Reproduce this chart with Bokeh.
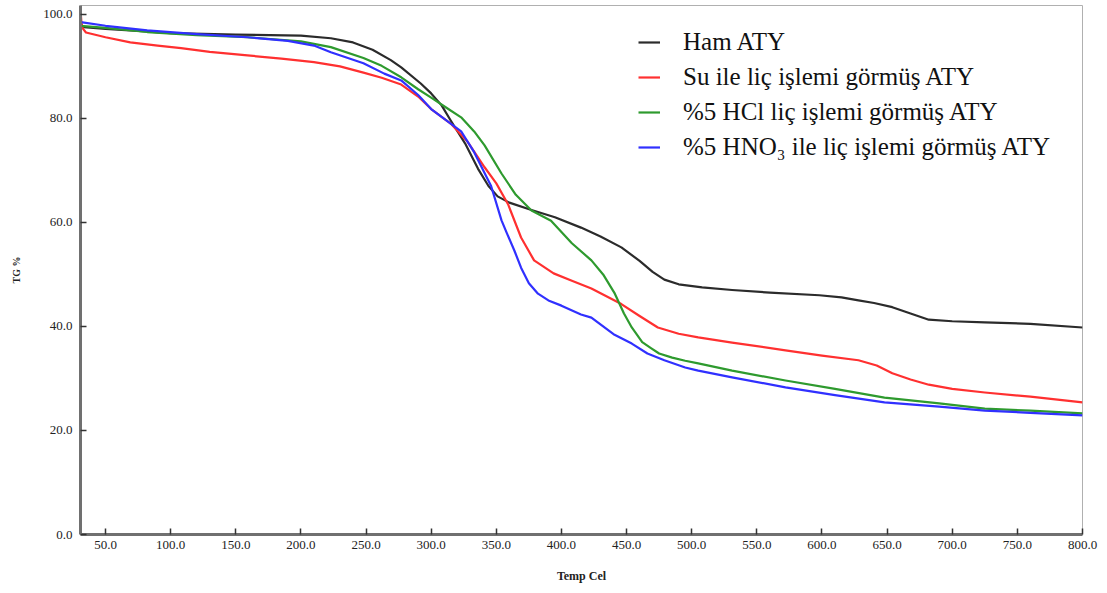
from bokeh.plotting import figure
from bokeh.models import Legend, LegendItem, NumeralTickFormatter, FixedTicker, Range1d
from bokeh.embed import file_html
from bokeh.resources import INLINE

# ---- data ----
ham_T = [31, 50, 75, 100, 150, 200, 223, 240, 255, 269, 277, 292, 300, 308, 315, 326, 336, 344, 351, 360, 377, 395, 415, 430, 446, 460, 470, 479, 490, 508, 531, 560, 598, 615, 628, 640, 654, 668, 682, 700, 725, 760, 800]
ham_W = [97.6, 97.2, 96.8, 96.4, 96.1, 95.9, 95.4, 94.6, 93.2, 91.2, 89.8, 86.7, 84.8, 82.5, 79.6, 75.2, 70.3, 67.0, 65.0, 63.8, 62.4, 61.0, 59.0, 57.3, 55.2, 52.6, 50.5, 49.0, 48.1, 47.5, 47.0, 46.5, 46.0, 45.6, 45.0, 44.5, 43.7, 42.5, 41.3, 41.0, 40.8, 40.5, 39.8]

su_T = [31, 31.5, 32.5, 35, 50, 69, 90, 108, 130, 159, 185, 210, 230, 248, 262, 277, 290, 300, 315, 328, 341, 350, 359, 369, 379, 394, 408, 423, 446, 460, 474, 490, 505, 531, 572, 600, 628, 642, 654, 668, 682, 700, 725, 760, 800]
su_W = [100.2, 98.5, 97.3, 96.5, 95.6, 94.6, 94.0, 93.5, 92.8, 92.1, 91.5, 90.8, 90.0, 88.8, 87.8, 86.5, 84.2, 81.8, 79.0, 75.5, 70.6, 67.5, 63.5, 57.1, 52.7, 50.2, 48.8, 47.3, 44.3, 42.0, 39.8, 38.6, 37.9, 36.9, 35.4, 34.4, 33.5, 32.5, 31.0, 29.8, 28.8, 28.0, 27.3, 26.5, 25.4]

hcl_T = [31, 50, 82, 120, 159, 200, 223, 248, 262, 277, 290, 300, 312, 323, 333, 341, 354, 365, 377, 392, 408, 423, 432, 441, 448, 454, 462, 469, 475, 485, 495, 505, 531, 572, 610, 648, 690, 725, 760, 800]
hcl_W = [97.8, 97.4, 96.6, 96.0, 95.6, 94.8, 93.7, 91.6, 90.1, 87.9, 85.6, 84.0, 82.0, 80.2, 77.5, 74.8, 69.4, 65.3, 62.3, 60.3, 56.0, 52.7, 50.0, 46.3, 42.5, 39.8, 37.0, 35.8, 34.8, 34.0, 33.4, 32.9, 31.5, 29.6, 28.0, 26.3, 25.2, 24.2, 23.8, 23.3]

hno3_T = [31, 50, 82, 120, 159, 190, 210, 223, 248, 264, 277, 290, 300, 315, 323, 333, 346, 354, 358, 364, 369, 375, 382, 390, 400, 415, 423, 440, 454, 466, 479, 495, 505, 531, 572, 610, 648, 690, 725, 760, 800]
hno3_W = [98.5, 97.8, 96.9, 96.2, 95.6, 94.9, 94.0, 92.7, 90.6, 88.6, 87.3, 84.5, 81.8, 79.0, 77.5, 73.5, 67.0, 60.4, 58.0, 54.5, 51.3, 48.3, 46.3, 45.0, 44.0, 42.3, 41.7, 38.5, 36.7, 34.8, 33.5, 32.1, 31.5, 30.2, 28.3, 26.8, 25.4, 24.6, 23.8, 23.4, 22.9]

series_labels = ["Ham ATY", "Su ile liç işlemi görmüş ATY", "%5 HCl liç işlemi görmüş ATY", "%5 HNO₃ ile liç işlemi görmüş ATY"]
series_colors = ["#2b2b2b", "#ff3030", "#2e9a2e", "#3030ff"]

x_ticks = list(range(50, 801, 50))
y_ticks = [0, 20, 40, 60, 80, 100]

p = figure(width=1098, height=589, output_backend="svg", toolbar_location=None,
           x_range=Range1d(30.8, 800), y_range=Range1d(0, 101.7),
           min_border_left=80, min_border_right=16, min_border_top=5, min_border_bottom=55)

p.xgrid.visible = False
p.ygrid.visible = False
p.outline_line_color = "#b0b0b0"
p.outline_line_width = 1
p.background_fill_color = "white"
p.border_fill_color = "white"

renderers = []
for T, W, c in zip([ham_T, su_T, hcl_T, hno3_T], [ham_W, su_W, hcl_W, hno3_W], series_colors):
    r = p.line(T, W, line_color=c, line_width=2.2, line_join="round")
    renderers.append(r)

for ax in (p.xaxis[0], p.yaxis[0]):
    ax.axis_line_color = "#707070"
    ax.axis_line_width = 3
    ax.major_tick_line_color = "#333333"
    ax.major_tick_line_width = 1.5
    ax.major_tick_in = 6
    ax.major_tick_out = 0
    ax.minor_tick_in = 0
    ax.minor_tick_out = 0
    ax.major_label_text_font = "Liberation Serif"
    ax.major_label_text_font_size = "13px"
    ax.major_label_text_color = "#222222"
    ax.formatter = NumeralTickFormatter(format="0.0")
    ax.axis_label_text_font = "Liberation Serif"
    ax.axis_label_text_font_style = "bold"
    ax.axis_label_text_color = "#222222"

p.xaxis[0].ticker = FixedTicker(ticks=x_ticks)
p.yaxis[0].ticker = FixedTicker(ticks=y_ticks)
p.xaxis[0].axis_label = "Temp Cel"
p.xaxis[0].axis_label_text_font_size = "12px"
p.xaxis[0].axis_label_standoff = 17
p.xaxis[0].major_label_standoff = 6
p.yaxis[0].axis_label = "TG %"
p.yaxis[0].axis_label_text_font_size = "10px"
p.yaxis[0].axis_label_standoff = 18
p.yaxis[0].major_label_standoff = 8

legend = Legend(items=[LegendItem(label=l, renderers=[r]) for l, r in zip(series_labels, renderers)],
                location=(558, 373))
legend.label_text_font = "Liberation Serif"
legend.label_text_font_size = "25px"
legend.label_text_color = "#111111"
legend.glyph_width = 22
legend.label_standoff = 23
legend.label_height = 28
legend.glyph_height = 28
legend.spacing = 7
legend.border_line_alpha = 0
legend.background_fill_alpha = 0
legend.padding = 0
legend.margin = 0
p.add_layout(legend)

open("out.html", "w").write(file_html(p, INLINE))
